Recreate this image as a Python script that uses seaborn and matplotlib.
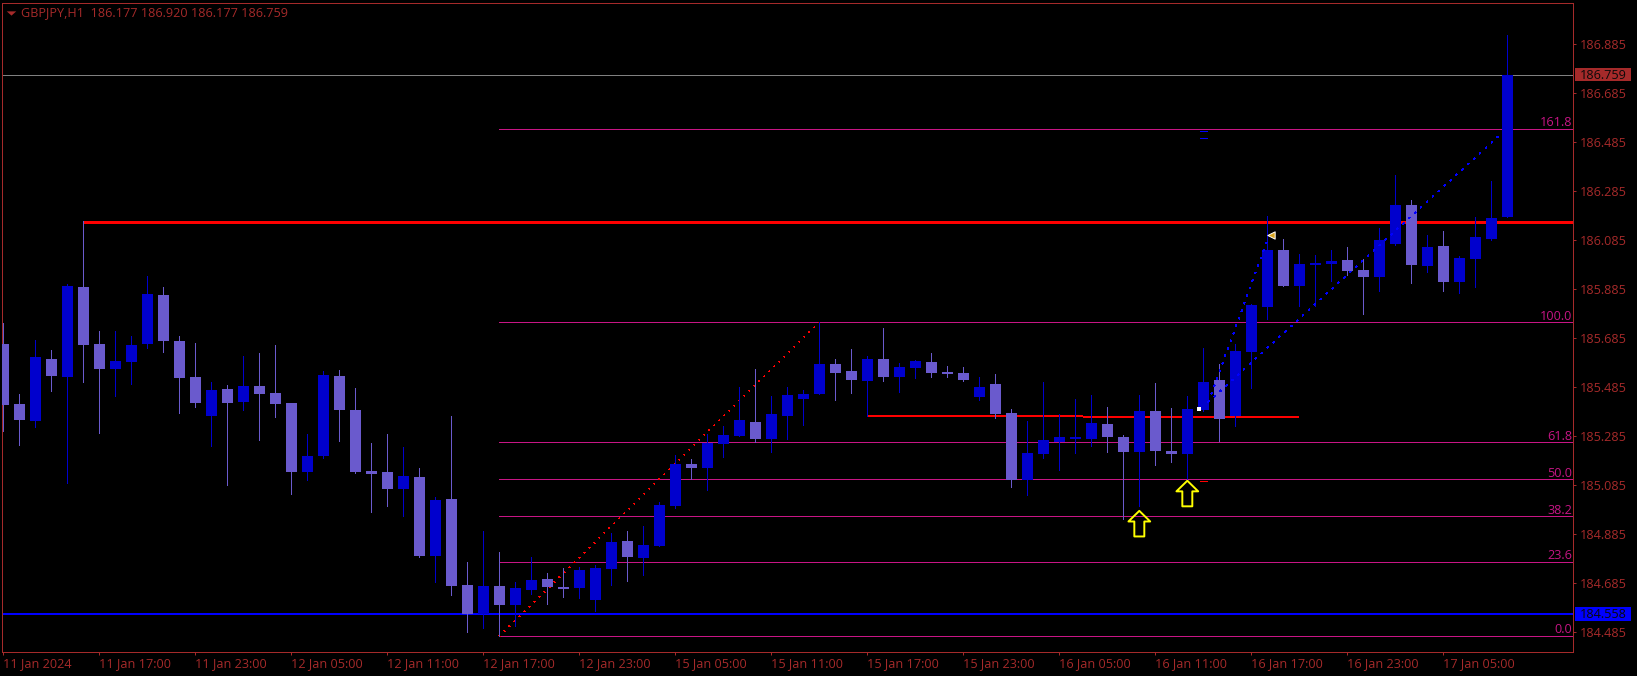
import pandas as pd
import numpy as np
import matplotlib
matplotlib.use('Agg')
import matplotlib.pyplot as plt
from matplotlib.path import Path
from matplotlib.patches import Rectangle
from matplotlib.transforms import blended_transform_factory
import seaborn as sns

# OHLC values, one per H1 bar
opens = [185.659, 185.414, 185.345, 185.598, 185.524, 185.892, 185.659, 185.557, 185.586, 185.659,
         185.859, 185.671, 185.524, 185.365, 185.475, 185.422, 185.488, 185.459, 185.418, 185.137,
         185.202, 185.529, 185.390, 185.141, 185.137, 185.067, 185.116, 184.794, 185.027, 184.676,
         184.557, 184.672, 184.594, 184.655, 184.700, 184.667, 184.663, 184.614, 184.741, 184.855,
         184.786, 184.835, 184.998, 185.170, 185.153, 185.251, 185.284, 185.341, 185.272, 185.365,
         185.435, 185.455, 185.578, 185.549, 185.508, 185.598, 185.525, 185.561, 185.586, 185.545,
         185.541, 185.443, 185.496, 185.378, 185.104, 185.210, 185.259, 185.272, 185.271, 185.332,
         185.279, 185.218, 185.385, 185.222, 185.210, 185.389, 185.512, 185.365, 185.626, 185.810,
         186.043, 185.896, 185.981, 185.985, 186.002, 185.961, 185.934, 186.067, 186.226, 185.977,
         186.059, 185.912, 186.006, 186.087, 186.177]
highs = [185.745, 185.455, 185.674, 185.635, 185.904, 186.163, 185.712, 185.712, 185.692, 185.937,
         185.892, 185.692, 185.663, 185.504, 185.492, 185.610, 185.622, 185.655, 185.418, 185.292,
         185.549, 185.553, 185.480, 185.255, 185.292, 185.239, 185.153, 185.035, 185.365, 184.769,
         184.896, 184.810, 184.688, 184.790, 184.725, 184.745, 184.749, 184.757, 184.888, 184.896,
         184.916, 185.013, 185.206, 185.190, 185.292, 185.325, 185.484, 185.557, 185.447, 185.484,
         185.472, 185.749, 185.598, 185.639, 185.610, 185.725, 185.582, 185.594, 185.623, 185.570,
         185.565, 185.525, 185.537, 185.394, 185.345, 185.504, 185.374, 185.435, 185.450, 185.401,
         185.287, 185.450, 185.499, 185.397, 185.446, 185.642, 185.577, 185.659, 185.822, 186.181,
         186.087, 186.026, 186.022, 186.043, 186.055, 186.006, 186.132, 186.349, 186.247, 186.104,
         186.120, 186.018, 186.177, 186.324, 186.920]
lows = [185.304, 185.247, 185.320, 185.467, 185.092, 185.504, 185.296, 185.447, 185.496, 185.643,
        185.626, 185.377, 185.402, 185.243, 185.084, 185.390, 185.267, 185.361, 185.047, 185.104,
        185.194, 185.263, 185.133, 184.974, 184.998, 184.957, 184.790, 184.688, 184.635, 184.484,
        184.500, 184.467, 184.508, 184.639, 184.598, 184.627, 184.623, 184.570, 184.676, 184.692,
        184.716, 184.835, 184.990, 185.108, 185.063, 185.198, 185.284, 185.259, 185.219, 185.272,
        185.329, 185.455, 185.431, 185.459, 185.365, 185.508, 185.463, 185.521, 185.525, 185.525,
        185.508, 185.431, 185.357, 185.076, 185.043, 185.194, 185.145, 185.214, 185.242, 185.218,
        184.944, 184.997, 185.165, 185.177, 185.108, 185.385, 185.263, 185.324, 185.479, 185.761,
        185.896, 185.814, 185.814, 185.916, 185.940, 185.781, 185.875, 186.063, 185.908, 185.953,
        185.875, 185.867, 185.891, 186.083, 186.177]
closes = [185.410, 185.349, 185.606, 185.528, 185.896, 185.655, 185.557, 185.590, 185.655, 185.863,
          185.671, 185.520, 185.418, 185.471, 185.418, 185.488, 185.455, 185.414, 185.137, 185.202,
          185.533, 185.390, 185.137, 185.129, 185.067, 185.120, 184.794, 185.023, 184.672, 184.557,
          184.672, 184.594, 184.663, 184.696, 184.667, 184.659, 184.737, 184.745, 184.851, 184.790,
          184.839, 185.002, 185.170, 185.153, 185.255, 185.288, 185.349, 185.272, 185.374, 185.451,
          185.455, 185.578, 185.541, 185.512, 185.598, 185.525, 185.565, 185.590, 185.541, 185.537,
          185.512, 185.484, 185.374, 185.104, 185.214, 185.267, 185.280, 185.279, 185.336, 185.279,
          185.218, 185.385, 185.222, 185.210, 185.393, 185.503, 185.352, 185.630, 185.818, 186.043,
          185.896, 185.985, 185.989, 185.998, 185.957, 185.932, 186.083, 186.226, 185.981, 186.055,
          185.912, 186.010, 186.096, 186.173, 186.759]

price_ticks = [186.885, 186.685, 186.485, 186.285, 186.085, 185.885, 185.685,
               185.485, 185.285, 185.085, 184.885, 184.685, 184.485]
time_ticks = [0, 6, 12, 18, 24, 30, 36, 42, 48, 54, 60, 66, 72, 78, 84, 90]
time_labels = ['11 Jan 2024', '11 Jan 17:00', '11 Jan 23:00', '12 Jan 05:00', '12 Jan 11:00',
               '12 Jan 17:00', '12 Jan 23:00', '15 Jan 05:00', '15 Jan 11:00', '15 Jan 17:00',
               '15 Jan 23:00', '16 Jan 05:00', '16 Jan 11:00', '16 Jan 17:00', '16 Jan 23:00',
               '17 Jan 05:00']

# fibo retracement
fib_names = ['161.8', '100.0', '61.8', '50.0', '38.2', '23.6', '0.0']
fib_prices = [186.538, 185.747, 185.258, 185.107, 184.956, 184.769, 184.467]
fib_start = 31
fib_trend_x = [31, 51]
fib_trend_y = [184.467, 185.747]

# horizontal levels and trend lines
last_price = 186.759
support_price = 184.558
resistance_x = [5, 98.2]
resistance_y = [186.159, 186.159]
mid_red_x = [[54, 67.5], [67.5, 81]]
mid_red_y = [[185.365, 185.365], [185.361, 185.361]]
blue_trend_x = [[75.5, 79.0], [75.3, 93.6]]
blue_trend_y = [[185.455, 186.083], [185.422, 186.516]]

# small objects
arrow_x = [71, 74]
arrow_y = [184.926, 185.049]
dash_x = [74.8, 75.25]
red_dash_y = 185.099
blue_dash_y = [186.529, 186.502]
gold_x, gold_y = [79.2], [186.104]
white_x, white_y = [74.7], [185.392]

title = 'GBPJPY,H1  186.177 186.920 186.177 186.759'

UP = '#0000CD'
DOWN = '#6A5ACD'
BROWN = '#A52A2A'
FIB = '#C71585'
PX = 0.72  # points per pixel at dpi 100
FONT = 9.1

sns.set_theme(style='dark', rc={
    'figure.facecolor': 'black', 'axes.facecolor': 'black', 'savefig.facecolor': 'black',
    'axes.edgecolor': BROWN, 'axes.linewidth': PX, 'axes.grid': False,
    'xtick.color': BROWN, 'ytick.color': BROWN,
    'xtick.bottom': True, 'ytick.right': True, 'ytick.left': False,
    'lines.solid_capstyle': 'butt', 'lines.dash_capstyle': 'butt',
})
plt.rcParams['font.family'] = ['Open Sans', 'DejaVu Sans']

df = pd.DataFrame({'bar': range(len(opens)), 'open': opens, 'high': highs, 'low': lows, 'close': closes})
df['side'] = np.where(df['close'] < df['open'], 'down', 'up')

fig = plt.figure(figsize=(16.37, 6.76), dpi=100)
ax = fig.add_axes([2.2 / 1637, 1 - 652.3 / 676, (1573.4 - 2.2) / 1637, (652.3 - 2.5) / 676])


def draw_line(x, y, color, width, order=2, style='-'):
    sns.lineplot(x=x, y=y, color=color, lw=width * PX, ax=ax, legend=False, sort=False,
                 estimator=None, zorder=order, linestyle=style, antialiased=False)


# levels go under the candles
for price in fib_prices:
    draw_line([fib_start, 98.2], [price, price], FIB, 1, order=1)
draw_line([-1, 99], [last_price, last_price], '#808080', 1, order=1)
draw_line([-1, 99], [support_price, support_price], '#0000FF', 2, order=1)
draw_line(resistance_x, resistance_y, '#FF0000', 3, order=1)
for xs, ys in zip(mid_red_x, mid_red_y):
    draw_line(xs, ys, '#FF0000', 2, order=1)

# wicks
wicks = pd.concat([df.assign(price=df['low']), df.assign(price=df['high'])]).sort_values('bar')
sns.lineplot(data=wicks, x='bar', y='price', hue='side', units='bar', estimator=None,
             palette={'up': UP, 'down': DOWN}, lw=PX, legend=False, ax=ax, zorder=3,
             antialiased=False)

# bodies
ax.bar(df['bar'], (df['close'] - df['open']).abs(), bottom=df[['open', 'close']].min(axis=1),
       width=11 / 16, color=df['side'].map({'up': UP, 'down': DOWN}), zorder=4, antialiased=False,
       linewidth=0, edgecolor='none')

# dotted trend lines
draw_line(fib_trend_x, fib_trend_y, '#FF0000', 1, order=2, style=(0, (1, 6)))
for xs, ys in zip(blue_trend_x, blue_trend_y):
    draw_line(xs, ys, '#0000FF', 1, order=5, style=(0, (1.5, 6)))

# little dashes
draw_line(dash_x, [red_dash_y, red_dash_y], '#FF0000', 1, order=5)
for price in blue_dash_y:
    draw_line(dash_x, [price, price], '#0000FF', 1, order=5)

# yellow arrows
arrow = Path([(0, 1), (0.85, 0.17), (0.39, 0.17), (0.39, -1), (-0.39, -1), (-0.39, 0.17), (-0.85, 0.17), (0, 1)],
             closed=True)
sns.scatterplot(x=arrow_x, y=arrow_y, marker=arrow, s=(25.6 * PX) ** 2, facecolors='none',
                edgecolors='#FFFF00', linewidths=1.4, ax=ax, zorder=6, legend=False)
sns.scatterplot(x=gold_x, y=gold_y, marker='<', s=28, color='#DAA520', edgecolor='white',
                linewidth=0.7, ax=ax, zorder=6, legend=False)
sns.scatterplot(x=white_x, y=white_y, marker='s', s=6, color='white', linewidth=0, ax=ax, zorder=6, legend=False)

ax.set_xlim(-0.069, 98.13)
ax.set_ylim(184.401, 187.053)
ax.set_xlabel('')
ax.set_ylabel('')
ax.yaxis.tick_right()
ax.set_yticks(price_ticks, [f'{p:.3f}' for p in price_ticks])
ax.set_xticks(time_ticks, time_labels, ha='left')
ax.tick_params(axis='both', labelsize=FONT, length=3 * PX, width=PX)
ax.tick_params(axis='x', pad=1.5)
ax.tick_params(axis='y', pad=2.5)

# fib labels, sitting on their lines at the right edge
for name, price in zip(fib_names, fib_prices):
    ax.annotate(name, xy=(1, price), xycoords=('axes fraction', 'data'), xytext=(-1.5 * PX, 6.3 * PX),
                textcoords='offset points', ha='right', va='center', color=FIB, fontsize=FONT, zorder=7)

# price boxes on the scale
box_tr = blended_transform_factory(ax.transAxes, ax.transData)
for price, fill in [(last_price, BROWN), (support_price, '#0000FF')]:
    ax.add_patch(Rectangle((1.001, price - 0.028), 0.0356, 0.056, transform=box_tr, facecolor=fill,
                           edgecolor='none', clip_on=False, zorder=8))
    ax.text(1.0188, price - 0.002, f'{price:.3f}', transform=box_tr, ha='center', va='center',
            color='#0a0a0a', fontsize=FONT, zorder=9, clip_on=False)

# header
triangle = Path([(-1, 0.45), (1, 0.45), (0, -0.45), (-1, 0.45)], closed=True)
ax.annotate(title, xy=(0, 1), xycoords='axes fraction', xytext=(18.8 * PX, -10.2 * PX),
            textcoords='offset points', ha='left', va='center', color=BROWN, fontsize=FONT)
ax.plot([8.5 / 1571], [1 - 10.5 / 650], marker=triangle, ms=9.5 * PX, color=BROWN, mew=0,
        transform=ax.transAxes, clip_on=False)

fig.savefig('out.png', dpi=100)
plt.close(fig)
